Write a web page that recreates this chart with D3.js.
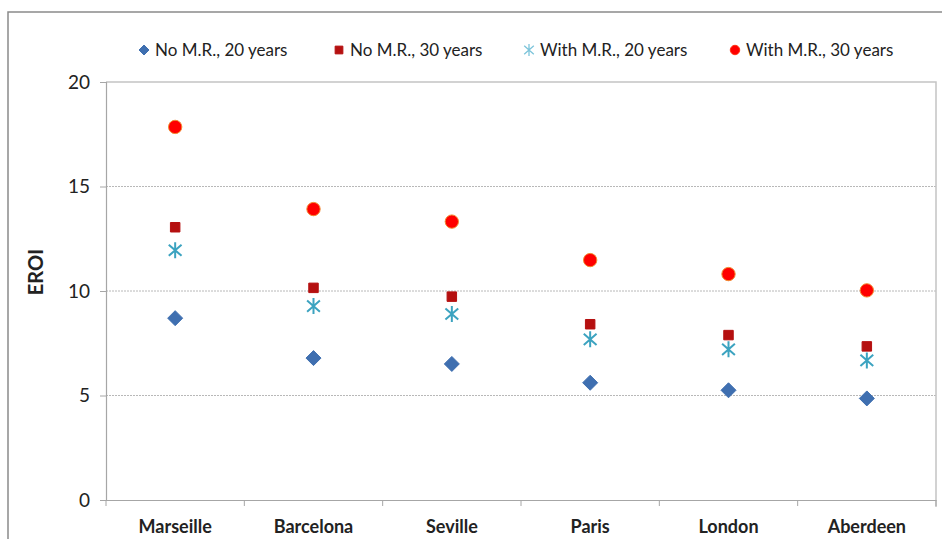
<!DOCTYPE html>
<head>
<meta charset="utf-8">
<style>
    body { margin: 0; background: #fff; }
    text { font-family: Lato, "Open Sans", sans-serif; fill: #222; }
    .grid line { stroke: #b8b8b8; stroke-dasharray: 2,1; }
</style>
</head>
<body>
    <script src="https://d3js.org/d3.v7.min.js"></script>
    <script>

    ///////////////////////////
    ////////// DATA ///////////
    ///////////////////////////

    const cities = ['Marseille', 'Barcelona', 'Seville', 'Paris', 'London', 'Aberdeen'];
    const seriesNames = ['No M.R., 20 years', 'No M.R., 30 years', 'With M.R., 20 years', 'With M.R., 30 years'];
    const noMR20 = [8.7, 6.79, 6.51, 5.61, 5.25, 4.86];
    const noMR30 = [13.05, 10.15, 9.73, 8.41, 7.89, 7.35];
    const withMR20 = [11.95, 9.28, 8.9, 7.69, 7.21, 6.68];
    const withMR30 = [17.85, 13.92, 13.32, 11.48, 10.81, 10.03];
    const yTicks = [0, 5, 10, 15, 20];

    ///////////////////////////
    ////////// SETUP //////////
    ///////////////////////////

    const W = 942, H = 539;
    const plot = { left: 106, right: 936, top: 82, bottom: 500 };

    let svg = d3.select('body').append('svg')
        .attr('width', W)
        .attr('height', H);

    // outer chart frame
    svg.append('rect')
        .attr('x', 8).attr('y', 12)
        .attr('width', W).attr('height', H)
        .attr('fill', 'none').attr('stroke', '#8a8a8a').attr('stroke-width', 1.5);

    let x = d3.scaleBand().domain(cities).range([plot.left, plot.right]);
    let y = d3.scaleLinear().domain([0, 20]).range([plot.bottom, plot.top]);

    // gridlines
    svg.append('g').attr('class', 'grid')
        .selectAll('line').data(yTicks.filter(d => d > 0 && d < 20))
        .enter().append('line')
            .attr('x1', plot.left).attr('x2', plot.right)
            .attr('y1', d => y(d)).attr('y2', d => y(d));

    // plot area border (top + right)
    svg.append('path')
        .attr('d', `M${plot.left},${y(20)}H${plot.right}V${plot.bottom + 7}`)
        .attr('fill', 'none').attr('stroke', '#c4c4c4').attr('stroke-width', 1.5);

    // y axis
    let yAxis = svg.append('g')
        .attr('transform', `translate(${plot.left},0)`)
        .call(d3.axisLeft(y).tickValues(yTicks).tickSize(6).tickPadding(10));
    yAxis.select('.domain').attr('stroke', '#a6a6a6').attr('stroke-width', 1.2);
    yAxis.selectAll('.tick line').attr('stroke', '#a6a6a6');
    yAxis.selectAll('text').attr('font-size', 19).attr('fill', '#222')
        .attr('font-family', 'Lato, sans-serif');

    // x axis
    let xAxis = svg.append('g')
        .attr('transform', `translate(0,${plot.bottom})`)
        .call(d3.axisBottom(x).tickSize(0).tickPadding(20));
    xAxis.select('.domain').attr('stroke', '#a6a6a6').attr('stroke-width', 1.2);
    xAxis.selectAll('text').attr('font-size', 18).attr('font-weight', 'bold')
        .attr('fill', '#222').attr('font-family', 'Lato, sans-serif');
    // category boundary ticks
    xAxis.selectAll('.bound').data(d3.range(cities.length + 1))
        .enter().append('line').attr('class', 'bound')
            .attr('x1', i => plot.left + i * x.step()).attr('x2', i => plot.left + i * x.step())
            .attr('y1', 0).attr('y2', 6)
            .attr('stroke', '#a6a6a6');

    svg.append('text')
        .attr('transform', 'translate(43,272) rotate(-90)')
        .attr('text-anchor', 'middle')
        .attr('font-size', 20).attr('font-weight', 'bold')
        .text('EROI');

    /////////////////////////////
    ////////// MARKERS //////////
    /////////////////////////////

    const asterisk = s => `M0,${-s}V${s}M${-s * 0.8},${-s * 0.7}L${s * 0.8},${s * 0.7}M${-s * 0.8},${s * 0.7}L${s * 0.8},${-s * 0.7}`;
    const diamond = s => `M0,${-s}L${s},0L0,${s}L${-s},0Z`;

    const styles = [
        { path: diamond(7.5), fill: '#3f6fb0', stroke: '#3f6fb0', sw: 1 },
        { path: d3.symbol(d3.symbolSquare, 90)(), fill: '#b51010', stroke: '#b51010', sw: 1 },
        { path: asterisk(8), fill: 'none', stroke: '#3ca3c0', sw: 2 },
        { path: d3.symbol(d3.symbolCircle, 140)(), fill: '#ff0000', stroke: '#f28a30', sw: 1 }
    ];

    const allSeries = [noMR20, noMR30, withMR20, withMR30];
    const cx = d => x(d) + x.bandwidth() / 2;

    allSeries.forEach((vals, s) => {
        svg.append('g').selectAll('path').data(vals)
            .enter().append('path')
                .attr('d', styles[s].path)
                .attr('transform', (d, i) => `translate(${cx(cities[i])},${y(d)})`)
                .attr('fill', styles[s].fill)
                .attr('stroke', styles[s].stroke)
                .attr('stroke-width', styles[s].sw);
    });

    ////////////////////////////
    ////////// LEGEND //////////
    ////////////////////////////

    const legendX = [144, 339, 529, 735];
    let legend = svg.append('g').selectAll('g').data(seriesNames)
        .enter().append('g')
            .attr('transform', (d, i) => `translate(${legendX[i]},50)`);

    const legendStyles = [
        { path: diamond(5), fill: '#3f6fb0', stroke: '#3f6fb0', sw: 1 },
        { path: d3.symbol(d3.symbolSquare, 60)(), fill: '#b51010', stroke: '#b51010', sw: 1 },
        { path: asterisk(6), fill: 'none', stroke: '#7cc4da', sw: 1.3 },
        { path: d3.symbol(d3.symbolCircle, 70)(), fill: '#ff0000', stroke: '#ff3010', sw: 1 }
    ];

    legend.append('path')
        .attr('d', (d, i) => legendStyles[i].path)
        .attr('fill', (d, i) => legendStyles[i].fill)
        .attr('stroke', (d, i) => legendStyles[i].stroke)
        .attr('stroke-width', (d, i) => legendStyles[i].sw);

    legend.append('text')
        .attr('x', 11).attr('dy', '0.35em')
        .attr('font-size', 17)
        .text(d => d);

    </script>
</body>
